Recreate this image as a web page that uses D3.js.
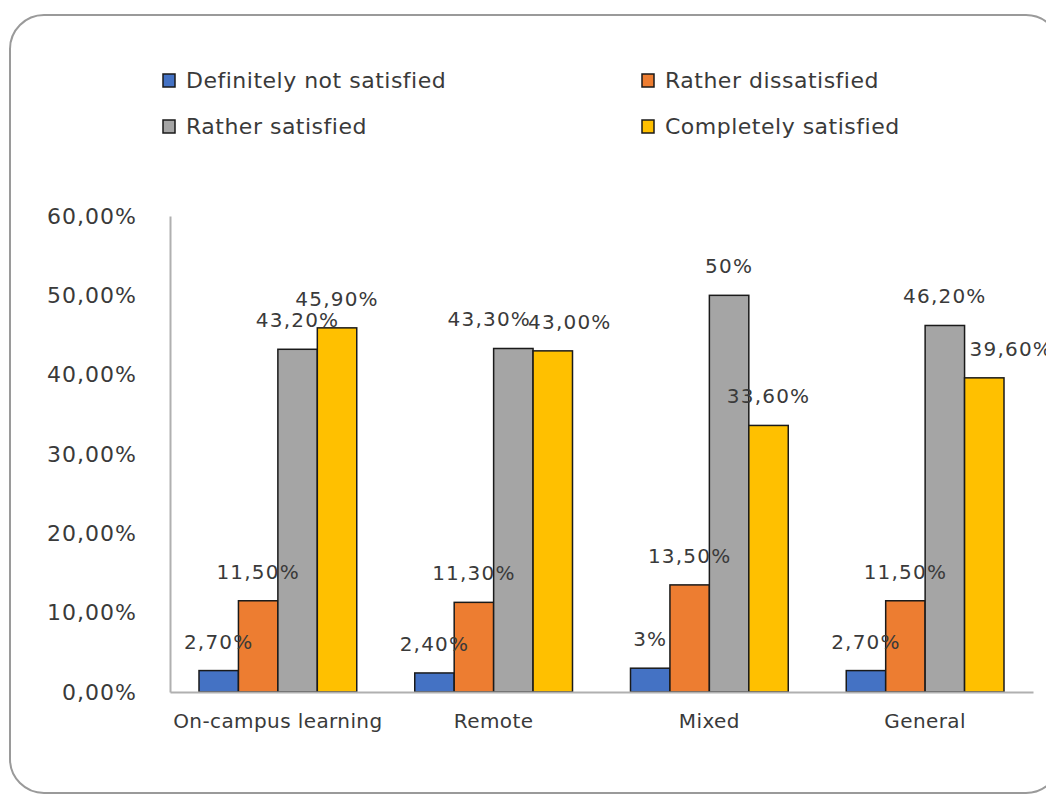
<html>
<head>
<script src="https://d3js.org/d3.v7.min.js"></script>
<style>
    body { margin: 0; background: #fff; }
    text { font-family: "DejaVu Sans", sans-serif; fill: #3a3a3a; }
</style>
</head>
<body>
<svg width="1046" height="796"></svg>
<script>
// chart data
const categories = ["On-campus learning", "Remote", "Mixed", "General"];
const seriesNames = ["Definitely not satisfied", "Rather dissatisfied", "Rather satisfied", "Completely satisfied"];
const notSatisfied = [2.7, 2.4, 3, 2.7];
const dissatisfied = [11.5, 11.3, 13.5, 11.5];
const ratherSatisfied = [43.2, 43.3, 50, 46.2];
const completelySatisfied = [45.9, 43.0, 33.6, 39.6];
const valueLabels = [
    ["2,70%", "11,50%", "43,20%", "45,90%"],
    ["2,40%", "11,30%", "43,30%", "43,00%"],
    ["3%", "13,50%", "50%", "33,60%"],
    ["2,70%", "11,50%", "46,20%", "39,60%"]
];
const yTicks = [0, 10, 20, 30, 40, 50, 60];
const yTickLabels = ["0,00%", "10,00%", "20,00%", "30,00%", "40,00%", "50,00%", "60,00%"];

// layout stuff
const colors = ["#4472C4", "#ED7D31", "#A5A5A5", "#FFC000"];
// manual label shifts (px) where the labels were moved in the original
const labelShift = [[0, 0, 0, 0], [0, 0, -24, 17], [0, 0, 0, 0], [0, 0, 0, 27]];

const svg = d3.select("svg");
const series = [notSatisfied, dissatisfied, ratherSatisfied, completelySatisfied];

// frame
svg.append("rect")
    .attr("x", 10).attr("y", 15)
    .attr("width", 1050).attr("height", 778)
    .attr("rx", 34).attr("ry", 34)
    .style("fill", "none")
    .style("stroke", "#9a9a9a")
    .style("stroke-width", 2);

const x0 = d3.scaleBand()
    .domain(categories)
    .range([170, 1033]);

const x1 = d3.scaleBand()
    .domain(d3.range(4))
    .range([29, x0.bandwidth() - 29]);

const y = d3.scaleLinear()
    .domain([0, 60])
    .range([692, 216]);

// y axis
const yAxis = svg.append("g")
    .attr("transform", "translate(170,0)")
    .call(d3.axisLeft(y).tickValues(yTicks).tickSize(0).tickPadding(33)
        .tickFormat(function(d, i) { return yTickLabels[i]; }));
yAxis.select(".domain").style("stroke", "#b0b0b0").style("stroke-width", 2);
yAxis.selectAll("text")
    .style("font-size", "22px")
    .style("letter-spacing", "1px")
    .style("fill", "#3a3a3a");

// bars
const groups = svg.selectAll("g.cat")
    .data(categories)
    .enter()
    .append("g")
    .attr("class", "cat")
    .attr("transform", function(d) { return "translate(" + x0(d) + ",0)"; });

groups.selectAll("rect")
    .data(function(d, ci) { return series.map(function(s, si) { return {ci: ci, si: si, v: s[ci]}; }); })
    .enter()
    .append("rect")
    .attr("x", function(d) { return x1(d.si); })
    .attr("y", function(d) { return y(d.v); })
    .attr("width", x1.bandwidth())
    .attr("height", function(d) { return y(0) - y(d.v); })
    .style("fill", function(d) { return colors[d.si]; })
    .style("stroke", "#1a1a1a")
    .style("stroke-width", 1.5);

// x axis line
const xAxis = svg.append("g")
    .attr("transform", "translate(0,692)")
    .call(d3.axisBottom(x0).tickSize(0).tickPadding(22));
xAxis.select(".domain").style("stroke", "#b0b0b0").style("stroke-width", 2);
xAxis.selectAll("text")
    .style("font-size", "20px")
    .style("letter-spacing", "0.4px")
    .style("fill", "#3a3a3a");

// data labels
groups.selectAll("text.lbl")
    .data(function(d, ci) { return series.map(function(s, si) { return {ci: ci, si: si, v: s[ci]}; }); })
    .enter()
    .append("text")
    .attr("class", "lbl")
    .attr("x", function(d) { return x1(d.si) + x1.bandwidth() / 2 + labelShift[d.ci][d.si]; })
    .attr("y", function(d) { return y(d.v) - 22; })
    .attr("text-anchor", "middle")
    .style("font-size", "20px")
    .style("letter-spacing", "1.2px")
    .text(function(d) { return valueLabels[d.ci][d.si]; });

// legend
const legendPos = [[163, 80], [642, 80], [163, 126], [642, 126]];
const legend = svg.selectAll("g.legend")
    .data(seriesNames)
    .enter()
    .append("g")
    .attr("class", "legend")
    .attr("transform", function(d, i) { return "translate(" + legendPos[i][0] + "," + legendPos[i][1] + ")"; });

legend.append("rect")
    .attr("x", 0).attr("y", -6)
    .attr("width", 12).attr("height", 13)
    .style("fill", function(d, i) { return colors[i]; })
    .style("stroke", "#1a1a1a")
    .style("stroke-width", 1.5);

legend.append("text")
    .attr("x", 23)
    .attr("dy", "0.35em")
    .style("font-size", "22px")
    .style("letter-spacing", "0.5px")
    .text(function(d) { return d; });
</script>
</body>
</html>
